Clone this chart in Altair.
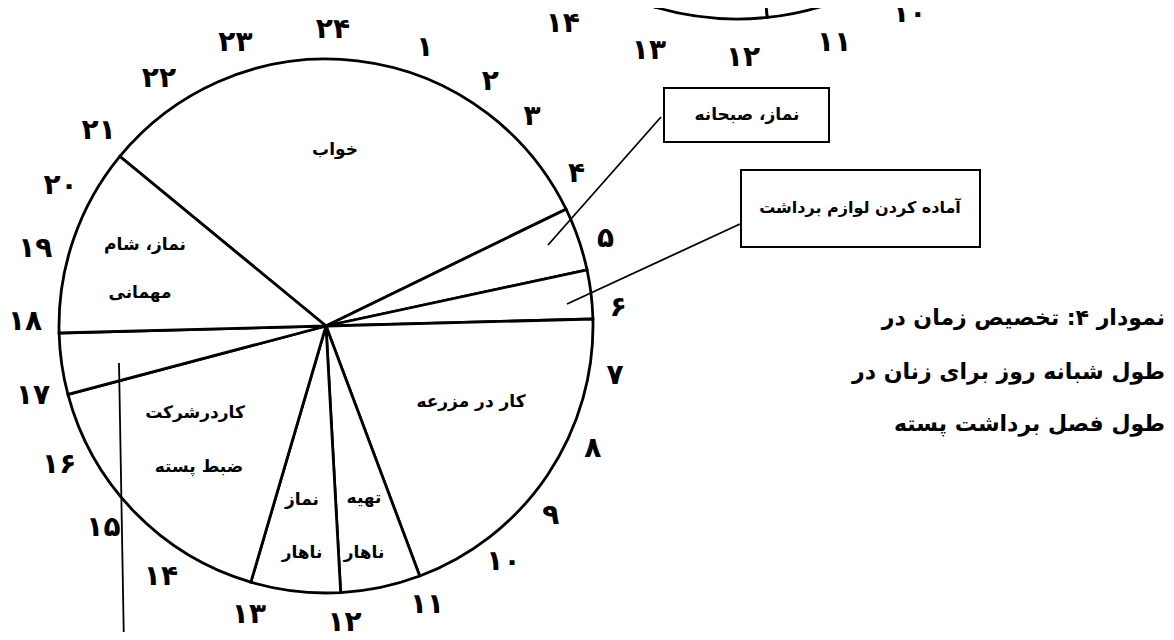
import math
import altair as alt
import pandas as pd

FONT = "DejaVu Sans"

# ---- data: main pie (hours as drawn on the clock face) ----
activity = ["خواب", "نماز، صبحانه", "آماده کردن لوازم برداشت", "کار در مزرعه",
            "تهیه ناهار", "نماز ناهار", "کاردرشرکت ضبط پسته", "—", "نماز، شام مهمانی"]
start_hour = [20.63, 4.27, 5.19, 5.90, 10.63, 11.79, 13.09, 17.01, 17.90]

# clock-face tick labels and where they sit (hours as drawn)
hour_labels = ["۲۴", "۱", "۲", "۳", "۴", "۵", "۶", "۷", "۸", "۹", "۱۰", "۱۱",
               "۱۲", "۱۳", "۱۴", "۱۵", "۱۶", "۱۷", "۱۸", "۱۹", "۲۰", "۲۱", "۲۲", "۲۳"]
hour_pos = [0.14, 1.35, 2.30, 3.00, 3.93, 4.85, 5.76, 6.63, 7.62, 8.64, 9.49, 10.62,
            11.71, 12.95, 14.19, 15.16, 16.15, 17.11, 18.06, 19.01, 19.89, 20.75, 21.78, 22.87]

# previous chart's pie (cropped at the top of the page)
prev_start = [11.60, 13.08]
prev_end = [13.08, 35.60]
prev_labels = ["۱۰", "۱۱", "۱۲", "۱۳", "۱۴"]
prev_pos = [10.20, 10.96, 11.83, 12.72, 13.57]

title_lines = ["نمودار ۴: تخصیص زمان در", "طول شبانه روز برای زنان در", "طول فصل برداشت پسته"]

# ---- tables ----
end_hour = start_hour[1:] + start_hour[:1]
end_hour = [e + 24 if e < s else e for s, e in zip(start_hour, end_hour)]
pie_df = pd.DataFrame({"activity": activity, "start": start_hour, "end": end_hour})
hours_df = pd.DataFrame({"label": hour_labels, "pos": hour_pos})
prev_df = pd.DataFrame({"start": prev_start, "end": prev_end})
prev_hours_df = pd.DataFrame({"label": prev_labels, "pos": prev_pos})

theta_scale = alt.Scale(domain=[0, 24], range=[0, 2 * math.pi], nice=False)


def pie(df, cx, cy, r):
    return alt.Chart(df).mark_arc(radius=r, fill="white", stroke="black", strokeWidth=2.8).encode(
        theta=alt.Theta("start:Q", scale=theta_scale, stack=False),
        theta2="end:Q",
        x=alt.value(cx - 8), y=alt.value(cy - 8),
    )


def ticks(df, cx, cy, r):
    return alt.Chart(df).mark_text(
        radius=r, font=FONT, fontSize=28, fontWeight="bold", color="black"
    ).encode(
        theta=alt.Theta("pos:Q", scale=theta_scale, stack=False),
        text="label:N",
        x=alt.value(cx - 8), y=alt.value(cy - 8),
    )


one = alt.Data(values=[{"k": 1}])


def label(text, x, y, size=17, align="center"):
    return alt.Chart(one).mark_text(
        text=text, font=FONT, fontSize=size, fontWeight="bold", color="black",
        align=align, baseline="middle"
    ).encode(x=alt.value(x - 8), y=alt.value(y - 8))


def rule(x1, y1, x2, y2, w=1.8):
    return alt.Chart(one).mark_rule(color="black", strokeWidth=w).encode(
        x=alt.value(x1 - 8), y=alt.value(y1 - 8), x2=alt.value(x2 - 8), y2=alt.value(y2 - 8))


def box(x1, y1, x2, y2):
    return alt.Chart(one).mark_rect(fill="white", stroke="black", strokeWidth=2).encode(
        x=alt.value(x1 - 8), y=alt.value(y1 - 8), x2=alt.value(x2 - 8), y2=alt.value(y2 - 8))


layers = [
    pie(prev_df, 737, -271, 290),
    ticks(prev_hours_df, 725, -348, 406),
    pie(pie_df, 326, 326, 267),
    ticks(hours_df, 322, 327, 297),
    # wedge labels
    label("خواب", 335, 150),
    label("نماز، شام", 145, 245),
    label("مهمانی", 140, 293),
    label("کار در مزرعه", 471, 402),
    label("کاردرشرکت", 195, 413),
    label("ضبط پسته", 199, 467),
    label("نماز", 302, 500),
    label("ناهار", 302, 553),
    label("تهیه", 364, 498),
    label("ناهار", 364, 553),
    # call-outs
    rule(661, 117, 548, 245),
    rule(740, 224, 567, 304),
    rule(119, 363, 124, 648),
    box(664, 88, 829, 142),
    box(741, 170, 980, 247),
    label("نماز، صبحانه", 747, 115),
    label("آماده کردن لوازم برداشت", 860, 208, size=16),
    # caption
    label(title_lines[0], 1165, 318, size=22, align="right"),
    label(title_lines[1], 1165, 372, size=22, align="right"),
    label(title_lines[2], 1165, 424, size=22, align="right"),
]

chart = alt.layer(*layers).properties(
    width=1158, height=624, autosize=alt.AutoSizeParams(type="none"), padding=0,
    background="white",
).configure_view(stroke=None)

chart.save("out.html", embed_options={"renderer": "svg", "actions": False})
